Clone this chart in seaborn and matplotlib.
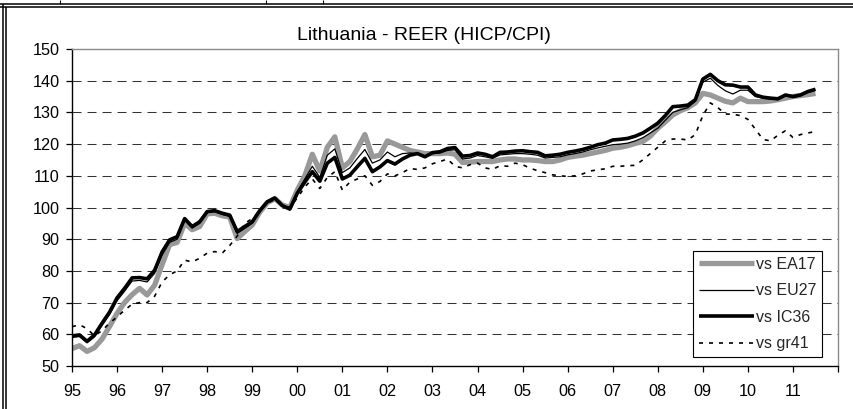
import numpy as np
import pandas as pd
import matplotlib
matplotlib.use("Agg")
import matplotlib.pyplot as plt
import seaborn as sns
from matplotlib.lines import Line2D

# ---------------- data (bi-monthly readings, 1995.0 .. 2011.5) ----------------
t = 1995 + np.arange(100) / 6.0

ea17 = [55.5, 56.4, 54.6, 55.8, 58.5, 62.5,
        66.6, 70.0, 72.5, 74.5, 72.4, 75.5,
        82.0, 88.3, 89.0, 95.0, 93.0, 94.0,
        98.0, 98.2, 97.4, 97.0, 90.2, 92.4,
        94.5, 98.5, 101.5, 102.8, 100.8, 100.0,
        105.5, 110.0, 116.8, 111.5, 119.0, 122.3,
        112.5, 114.5, 118.5, 123.0, 116.0, 116.5,
        121.0, 120.0, 119.0, 118.0, 117.5, 117.0,
        117.0, 117.0, 117.2, 116.8, 114.2, 114.3,
        114.5, 114.5, 114.5, 115.0, 115.3, 115.3,
        115.0, 115.0, 114.8, 114.5, 114.5, 115.0,
        115.8, 116.2, 116.5, 117.0, 117.5, 118.0,
        118.7, 119.0, 119.5, 120.2, 120.8, 122.5,
        125.0, 127.0, 129.2, 130.5, 131.5, 133.0,
        136.0, 135.5, 134.5, 133.5, 133.0, 134.5,
        133.4, 133.4, 133.4, 133.6, 134.0, 134.5,
        135.0, 135.3, 135.6, 136.0]

eu27 = [59.0, 59.3, 57.3, 59.2, 62.8, 66.2,
        70.6, 73.6, 76.8, 77.0, 76.5, 79.2,
        85.0, 89.0, 90.0, 96.0, 93.5, 95.0,
        98.4, 98.7, 97.8, 97.2, 91.8, 93.4,
        95.0, 98.6, 101.5, 102.8, 100.4, 99.5,
        105.0, 109.0, 113.0, 109.5, 116.5, 118.5,
        111.0, 112.5, 115.5, 118.3, 114.0, 115.0,
        117.5, 116.0, 117.0, 117.2, 117.0, 116.2,
        117.0, 117.2, 118.0, 118.2, 115.3, 115.6,
        116.4, 116.0, 115.5, 116.6, 116.8, 117.0,
        117.0, 116.8, 116.5, 115.6, 115.8, 116.0,
        116.6, 117.0, 117.5, 118.2, 118.8, 119.3,
        119.8, 120.0, 120.3, 121.0, 122.0, 123.5,
        125.0, 127.5, 130.0, 130.8, 131.5, 133.5,
        139.5, 140.8, 138.5, 136.8, 135.8, 137.0,
        137.0, 135.0, 134.5, 134.2, 134.0, 135.2,
        134.8, 135.2, 136.3, 137.0]

ic36 = [59.5, 59.8, 57.8, 59.8, 63.5, 67.0,
        71.5, 74.5, 77.8, 77.9, 77.5, 80.2,
        86.0, 89.8, 90.8, 96.5, 94.0, 95.5,
        98.7, 99.0, 98.2, 97.6, 92.4, 94.0,
        95.5, 99.0, 101.8, 103.0, 100.6, 99.5,
        104.5, 108.0, 111.3, 108.3, 114.0, 115.8,
        109.0, 110.2, 112.9, 115.5, 111.3, 112.8,
        114.8, 113.7, 115.3, 116.5, 117.0, 116.0,
        117.3, 117.6, 118.6, 118.9, 116.2, 116.4,
        117.2, 116.8, 116.0, 117.4, 117.5, 117.8,
        117.9, 117.6, 117.4, 116.3, 116.5, 116.8,
        117.4, 117.8, 118.3, 119.0, 119.8, 120.3,
        121.3, 121.5, 121.8, 122.5, 123.5, 125.0,
        126.6, 129.0, 131.8, 132.0, 132.3, 134.0,
        140.5, 142.0, 140.0, 138.7, 138.6, 138.0,
        138.0, 135.5, 134.8, 134.5, 134.3, 135.5,
        135.0, 135.5, 136.6, 137.3]

gr41 = [62.4, 63.0, 61.8, 59.5, 61.2, 63.5,
        65.5, 67.6, 69.5, 70.0, 70.0, 72.0,
        76.5, 78.8, 80.0, 83.4, 82.8, 84.0,
        85.6, 86.1, 85.6, 88.0, 91.0, 95.0,
        96.5, 99.0, 101.3, 102.5, 100.8, 100.0,
        103.0, 106.5, 109.0, 106.0, 109.5, 111.3,
        105.5, 108.0, 109.0, 110.0, 107.0, 108.2,
        110.6, 110.0, 111.0, 112.3, 112.0, 112.5,
        113.8, 114.5, 115.3, 113.0, 112.5, 113.5,
        114.0, 112.5, 112.0, 113.2, 113.0, 114.0,
        113.5, 112.4, 111.6, 111.0, 110.3, 110.0,
        109.8, 110.0, 110.6, 111.5, 111.9, 112.2,
        113.0, 113.0, 113.2, 113.3, 115.0, 117.0,
        119.0, 121.0, 121.6, 121.6, 121.3, 123.0,
        129.0, 133.0, 131.5, 129.5, 129.4, 129.0,
        127.8, 124.7, 121.5, 121.0, 122.8, 124.2,
        122.1, 123.0, 123.5, 124.0]

series_names = ["vs EA17", "vs EU27", "vs IC36", "vs gr41"]
year_ticks = list(range(1995, 2013))
year_labels = ["95", "96", "97", "98", "99", "00", "01", "02", "03",
               "04", "05", "06", "07", "08", "09", "10", "11", ""]
y_ticks = list(range(50, 151, 10))
title = "Lithuania - REER (HICP/CPI)"

df = pd.DataFrame({
    "t": np.tile(t, 4),
    "value": ea17 + eu27 + ic36 + gr41,
    "series": np.repeat(series_names, len(t)),
})

# ---------------- style ----------------
sns.set_style("white")
plt.rcParams["font.family"] = ["Liberation Sans", "DejaVu Sans"]
plt.rcParams["lines.scale_dashes"] = False

W, H = 854, 409
fig = plt.figure(figsize=(W / 100, H / 100), dpi=100)
L, R, T, B = 72, 838, 49, 366
ax = fig.add_axes([L / W, 1 - B / H, (R - L) / W, (B - T) / H])

styles = {
    "vs EA17": dict(color="#999999", linewidth=3.8, linestyle="-"),
    "vs EU27": dict(color="black", linewidth=0.9, linestyle="-"),
    "vs IC36": dict(color="black", linewidth=2.6, linestyle="-"),
    "vs gr41": dict(color="black", linewidth=1.2, linestyle=(0, (2.9, 4.3))),
}

for name in series_names:
    sub = df[df["series"] == name]
    sns.lineplot(data=sub, x="t", y="value", ax=ax, label=name,
                 errorbar=None, solid_capstyle="butt", **styles[name])

ax.set_xlim(1995, 2012)
ax.set_ylim(50, 150)
ax.set_xticks(year_ticks)
ax.set_xticklabels(year_labels)
ax.set_yticks(y_ticks)
ax.set_xlabel("")
ax.set_ylabel("")

ax.tick_params(axis="both", which="major", direction="out", length=4,
               width=0.9, color="black", labelsize=11.7, labelcolor="black",
               bottom=True, left=True)
ax.tick_params(axis="x", pad=9)
ax.tick_params(axis="y", pad=5)

ax.yaxis.grid(True, color="#333333", linewidth=0.75, linestyle=(0, (6.5, 4.3)))
ax.xaxis.grid(False)
gl = ax.get_ygridlines()
gl[0].set_visible(False)
gl[-1].set_visible(False)

for s in ["top", "right"]:
    ax.spines[s].set_color("#8a8a8a")
    ax.spines[s].set_linewidth(1.0)
for s in ["left", "bottom"]:
    ax.spines[s].set_color("black")
    ax.spines[s].set_linewidth(1.0)

handles, labels = ax.get_legend_handles_labels()
leg = ax.legend(handles, labels, loc="upper right",
                bbox_to_anchor=(822 / W, 1 - 251 / H),
                bbox_transform=fig.transFigure, frameon=True, fancybox=False,
                edgecolor="black", framealpha=1, fontsize=11.5,
                handlelength=3.5, handletextpad=0.1, labelspacing=0.72,
                borderpad=0.35, borderaxespad=0)
leg.get_frame().set_linewidth(0.8)

fig.text(424 / W, 1 - 39.5 / H, title, ha="center", va="baseline",
         fontsize=14, color="black")

# ---------------- surrounding table borders ----------------
def px_line(x0, y0, x1, y1, lw=1.0):
    fig.add_artist(Line2D([x0 / W, x1 / W], [1 - y0 / H, 1 - y1 / H],
                          transform=fig.transFigure, color="black",
                          linewidth=lw, solid_capstyle="butt"))

px_line(0, 3.8, W, 3.8, 1.1)
px_line(0, 7.0, W, 7.0, 1.1)
px_line(2.5, 3.8, 2.5, H, 1.1)
px_line(6.5, 7.0, 6.5, H, 1.1)
for xv in (60, 266, 323):
    px_line(xv, 0, xv, 3.8, 0.8)

fig.savefig("out.png", dpi=100)
